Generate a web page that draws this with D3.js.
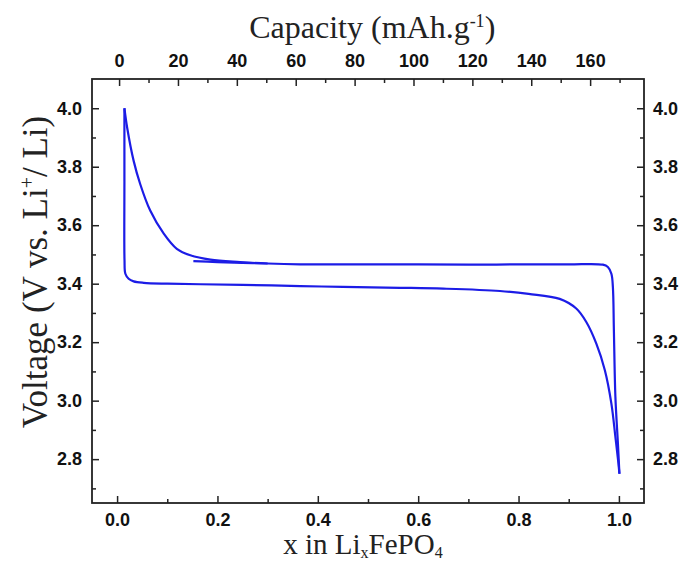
<!DOCTYPE html>
<html>
<head>
<meta charset="utf-8">
<script src="https://cdn.jsdelivr.net/npm/d3@7"></script>
<style>
  body { margin: 0; background: #fff; }
  .tick text { font-family: "Liberation Sans", Arial, sans-serif; font-weight: bold; font-size: 18px; fill: #111; }
  .axis path.domain { display: none; }
  .axis line { stroke: #222; stroke-width: 1.5; }
  .axis-label { font-family: "Liberation Serif", "Times New Roman", serif; font-size: 32px; fill: #222; }
  .line { fill: none; stroke: #1c1ce6; stroke-width: 2.2; stroke-linejoin: round; }
</style>
</head>
<body>
<svg id="chart"></svg>
<script>
var W = 685, H = 566;
var margin = {top: 79, right: 41, bottom: 63, left: 92};

// x in LixFePO4 vs voltage
// charge branch: from the bottom tip up along the upper plateau to the 4.0 V peak
var chargeX = [1.001, 0.998, 0.993, 0.990, 0.988, 0.985, 0.978, 0.968, 0.9, 0.8, 0.7, 0.6, 0.5, 0.4, 0.365, 0.3, 0.245, 0.186, 0.146, 0.119, 0.093, 0.066, 0.046, 0.033, 0.020, 0.0146];
var chargeV = [2.75, 2.854, 3.013, 3.24, 3.388, 3.434, 3.457, 3.465, 3.466, 3.466, 3.465, 3.466, 3.466, 3.466, 3.466, 3.469, 3.474, 3.482, 3.497, 3.519, 3.571, 3.65, 3.741, 3.82, 3.934, 4.0];

// discharge branch: from the peak down and along the lower plateau to the tip
var dischargeX = [0.0146, 0.0146, 0.0148, 0.0165, 0.023, 0.033, 0.053, 0.1, 0.166, 0.25, 0.365, 0.45, 0.564, 0.65, 0.763, 0.82, 0.882, 0.915, 0.935, 0.955, 0.972, 0.985, 0.993, 0.999, 1.001];
var dischargeV = [4.0, 3.75, 3.48, 3.434, 3.417, 3.408, 3.403, 3.400, 3.398, 3.396, 3.392, 3.389, 3.386, 3.383, 3.375, 3.365, 3.348, 3.315, 3.269, 3.195, 3.104, 2.99, 2.876, 2.786, 2.75];

// short start segment on the upper plateau
var stubX = [0.152, 0.2, 0.25, 0.3];
var stubV = [3.477, 3.474, 3.471, 3.469];

// ticks
var xTicks = [0, 0.2, 0.4, 0.6, 0.8, 1.0];
var xMinor = [0.1, 0.3, 0.5, 0.7, 0.9];
var capTicks = [0, 20, 40, 60, 80, 100, 120, 140, 160];
var capMinor = [10, 30, 50, 70, 90, 110, 130, 150, 170];
var vTicks = [2.8, 3.0, 3.2, 3.4, 3.6, 3.8, 4.0];
var vMinor = [2.7, 2.9, 3.1, 3.3, 3.5, 3.7, 3.9];

var width = W - margin.left - margin.right,
    height = H - margin.top - margin.bottom;

var svg = d3.select("#chart")
  .attr("width", W)
  .attr("height", H)
  .append("g")
    .attr("transform", "translate(" + margin.left + "," + margin.top + ")");

var x = d3.scaleLinear().domain([-0.05, 1.05]).range([0, width]);
var cap = d3.scaleLinear().domain([-9.2, 178.3]).range([0, width]);
var y = d3.scaleLinear().domain([2.65, 4.1]).range([height, 0]);

var fmt1 = d3.format(".1f");

//Major + minor ticks, all pointing inward
function addAxis(axisFn, scale, major, minor, fmt, pad, transform){
  svg.append("g").attr("class", "axis").attr("transform", transform)
    .call(axisFn(scale).tickValues(major).tickSize(-7).tickPadding(pad).tickFormat(fmt));
  svg.append("g").attr("class", "axis").attr("transform", transform)
    .call(axisFn(scale).tickValues(minor).tickSize(-4).tickFormat(""));
}

addAxis(d3.axisBottom, x, xTicks, xMinor, fmt1, 10, "translate(0," + height + ")");
addAxis(d3.axisTop, cap, capTicks, capMinor, d3.format("d"), 12, "translate(0,0)");
addAxis(d3.axisLeft, y, vTicks, vMinor, fmt1, 10, "translate(0,0)");
addAxis(d3.axisRight, y, vTicks, vMinor, fmt1, 9, "translate(" + width + ",0)");

//Frame
svg.append("rect")
  .attr("width", width)
  .attr("height", height)
  .style("fill", "none")
  .style("stroke", "#222")
  .style("stroke-width", 1.8);

//Curves
var line = d3.line()
  .x(function(d){ return x(d[0]); })
  .y(function(d){ return y(d[1]); })
  .curve(d3.curveCatmullRom.alpha(0.5));

function pairs(xs, vs){ return xs.map(function(d, i){ return [d, vs[i]]; }); }

[pairs(chargeX, chargeV), pairs(dischargeX, dischargeV), pairs(stubX, stubV)].forEach(function(data){
  svg.append("path")
    .datum(data)
    .attr("class", "line")
    .attr("d", line);
});

//Axis titles
var topTitle = svg.append("text")
  .attr("class", "axis-label")
  .attr("text-anchor", "middle")
  .attr("x", cap(86))
  .attr("y", -41);
topTitle.append("tspan").text("Capacity (mAh.g");
topTitle.append("tspan").attr("dy", -11).style("font-size", "18px").text("-1");
topTitle.append("tspan").attr("dy", 11).text(")");

var bottomTitle = svg.append("text")
  .attr("class", "axis-label")
  .attr("text-anchor", "middle")
  .style("font-size", "29px")
  .attr("x", x(0.49))
  .attr("y", height + 51);
bottomTitle.append("tspan").text("x in Li");
bottomTitle.append("tspan").attr("dy", 4).style("font-size", "16px").text("x");
bottomTitle.append("tspan").attr("dy", -4).text("FePO");
bottomTitle.append("tspan").attr("dy", 4).style("font-size", "16px").text("4");

var leftTitle = svg.append("text")
  .attr("class", "axis-label")
  .attr("text-anchor", "middle")
  .style("font-size", "35px")
  .attr("transform", "translate(" + (47 - margin.left) + "," + (272 - margin.top) + ") rotate(-90)");
leftTitle.append("tspan").text("Voltage (V vs. Li");
leftTitle.append("tspan").attr("dy", -13).style("font-size", "20px").text("+");
leftTitle.append("tspan").attr("dy", 13).text("/ Li)");
</script>
</body>
</html>
